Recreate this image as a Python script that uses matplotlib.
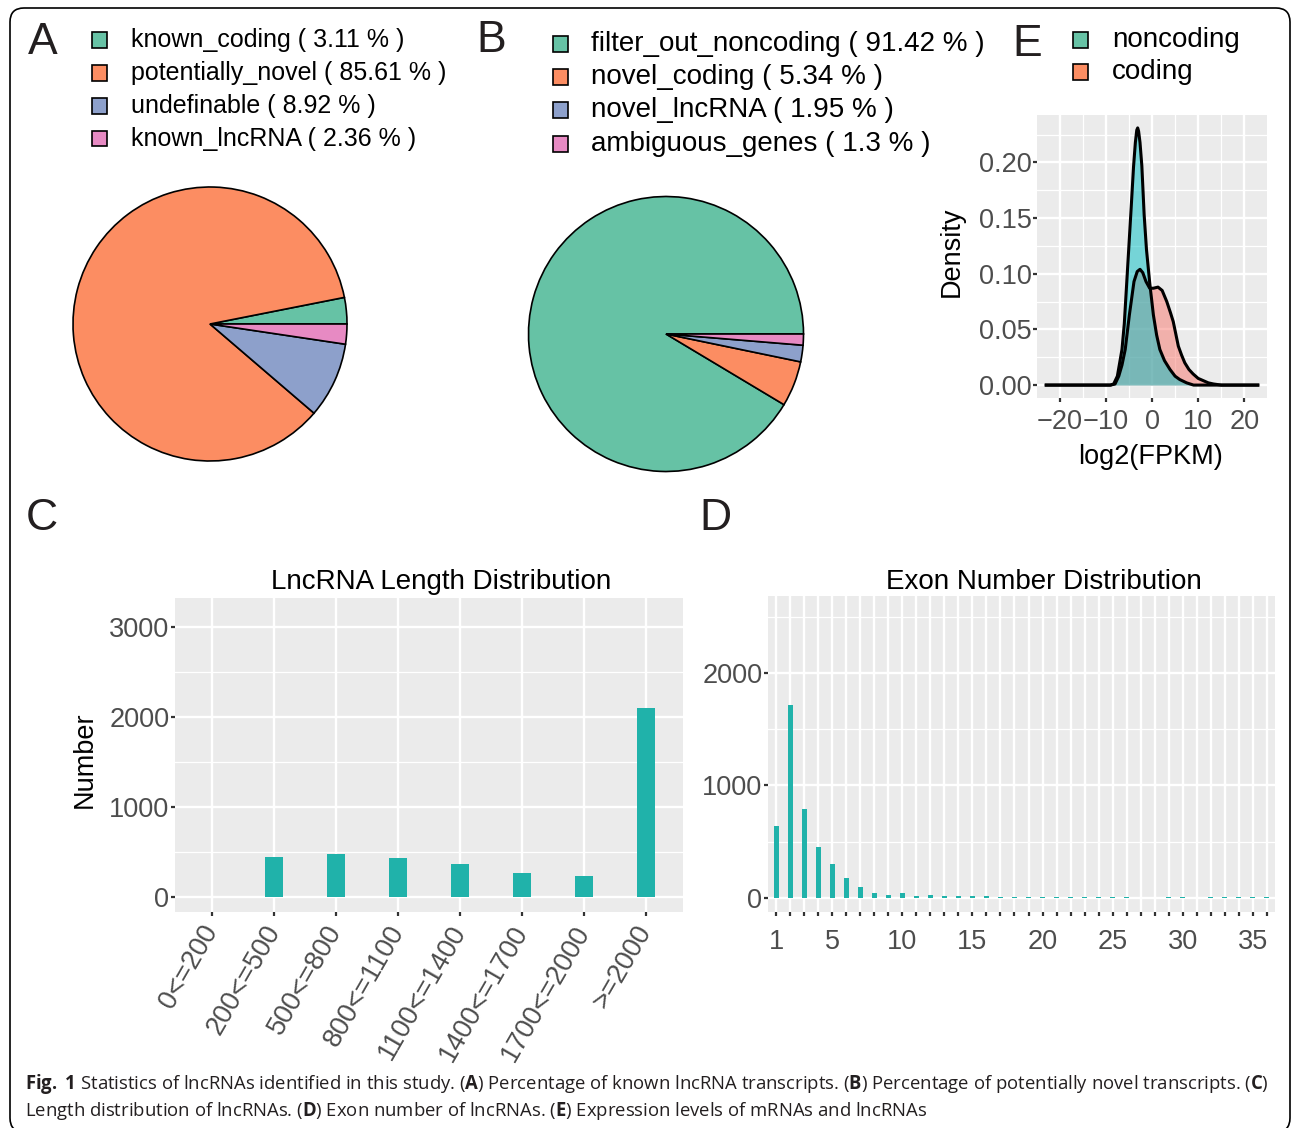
import matplotlib
matplotlib.use("Agg")
import matplotlib.pyplot as plt
from matplotlib.patches import Rectangle, FancyBboxPatch
from matplotlib.ticker import MultipleLocator, FormatStrFormatter
from matplotlib.transforms import IdentityTransform

plt.rcParams['font.family'] = ['Liberation Sans', 'DejaVu Sans']
plt.rcParams['mathtext.fontset'] = 'custom'
plt.rcParams['mathtext.rm'] = 'Open Sans'
plt.rcParams['mathtext.bf'] = 'Open Sans:bold'

W, H = 1292, 1128

# ---- data ----
pie_a_labels = ["known_coding", "potentially_novel", "undefinable", "known_lncRNA"]
pie_a_values = [3.11, 85.61, 8.92, 2.36]

pie_b_labels = ["filter_out_noncoding", "novel_coding", "novel_lncRNA", "ambiguous_genes"]
pie_b_values = [91.42, 5.34, 1.95, 1.3]

pie_colors = ["#66C2A5", "#FC8D62", "#8DA0CB", "#E78AC3"]

length_bins = ["0<=200", "200<=500", "500<=800", "800<=1100",
               "1100<=1400", "1400<=1700", "1700<=2000", ">=2000"]
length_counts = [5, 445, 480, 435, 372, 270, 234, 2108]

exon_numbers = list(range(1, 37))
exon_counts = [640, 1712, 793, 450, 297, 180, 99, 45, 24, 39, 18, 27,
               15, 15, 15, 15, 6, 6, 6, 6, 3, 3, 3, 3, 3, 5, 2, 2, 4, 3,
               2, 4, 4, 4, 4, 4]

# density of log2(FPKM), read point by point
nc_x = [-22.9, -9.0, -8.3, -7.5, -6.5, -6.0, -5.5, -5.0, -4.5, -4.0, -3.6, -3.3, -3.1,
        -2.9, -2.6, -2.2, -1.7, -1.2, -0.5, 0.3, 1.0, 1.7, 2.7, 3.9, 5.0, 6.0, 7.5, 9.0, 22.9]
nc_y = [0, 0, 0.001, 0.008, 0.032, 0.055, 0.090, 0.125, 0.160, 0.196, 0.218, 0.229, 0.231,
        0.228, 0.218, 0.197, 0.153, 0.122, 0.092, 0.063, 0.045, 0.032, 0.022, 0.014, 0.008,
        0.005, 0.002, 0, 0]
cd_x = [-22.9, -9.0, -8.0, -7.2, -6.5, -5.8, -4.9, -3.9, -3.2, -2.6, -2.0, -1.3, -0.5,
        0.3, 1.3, 2.2, 3.2, 4.0, 4.6, 5.2, 5.7, 6.4, 7.1, 8.0, 8.9, 10.0, 11.1, 12.2,
        13.3, 15.0, 22.9]
cd_y = [0, 0, 0.001, 0.008, 0.018, 0.032, 0.063, 0.093, 0.102, 0.104, 0.101, 0.093,
        0.087, 0.087, 0.088, 0.085, 0.075, 0.065, 0.057, 0.045, 0.035, 0.027, 0.020,
        0.014, 0.010, 0.006, 0.004, 0.002, 0.001, 0, 0]

density_labels = ["noncoding", "coding"]
density_fill = {"noncoding": "#00BFC4", "coding": "#F8766D"}

bar_color = "#20B2AA"
tick_gray = "#4D4D4D"
letter_col = "#231F20"


def fx(x):
    return x / W


def fy(y):
    return 1 - y / H


def box(left, top, right, bottom):
    return [fx(left), fy(bottom), (right - left) / W, (bottom - top) / H]


def gg_style(ax):
    ax.set_facecolor("#EBEBEB")
    for s in ax.spines.values():
        s.set_visible(False)
    ax.set_axisbelow(True)
    ax.grid(True, which='major', color='white', lw=1.7)
    ax.grid(True, which='minor', color='white', lw=0.9)
    ax.tick_params(which='major', length=3, width=1.6, color='#333333',
                   labelcolor=tick_gray, labelsize=19.5, pad=1)
    ax.tick_params(which='minor', length=0)


def legend_rows(x_sq, x_txt, ys, labels, colors, size):
    for y, lab, col in zip(ys, labels, colors):
        fig.add_artist(Rectangle((fx(x_sq - 7.5), fy(y + 7.5)), 15 / W, 15 / H,
                                 transform=fig.transFigure, facecolor=col,
                                 edgecolor='black', lw=1.2))
        fig.text(fx(x_txt), fy(y), lab, fontsize=size, va='center', ha='left')


fig = plt.figure(figsize=(W / 100, H / 100), dpi=100)

# ---- panel A ----
axA = fig.add_axes(box(70, 184, 350, 464))
axA.pie(pie_a_values, colors=pie_colors, startangle=0, counterclock=True,
        wedgeprops=dict(edgecolor='black', linewidth=1.2))
axA.set_xlim(-140 / 137, 140 / 137)
axA.set_ylim(-140 / 137, 140 / 137)
axA.set_aspect('equal')
axA.axis('off')
legend_rows(100, 131, [40, 73, 106, 139],
            [f"{l} ( {v} % )" for l, v in zip(pie_a_labels, pie_a_values)],
            pie_colors, 18)

# ---- panel B ----
axB = fig.add_axes(box(526, 194, 806, 474))
axB.pie(pie_b_values, colors=pie_colors, startangle=0, counterclock=True,
        wedgeprops=dict(edgecolor='black', linewidth=1.2))
axB.set_xlim(-140 / 137.5, 140 / 137.5)
axB.set_ylim(-140 / 137.5, 140 / 137.5)
axB.set_aspect('equal')
axB.axis('off')
legend_rows(560, 591, [44, 77, 110, 144],
            [f"{l} ( {v} % )" for l, v in zip(pie_b_labels, pie_b_values)],
            pie_colors, 20)

# ---- panel E ----
axE = fig.add_axes(box(1037, 115, 1267, 398))
gg_style(axE)
axE.fill_between(cd_x, cd_y, color=density_fill["coding"], alpha=0.5, lw=0)
axE.plot(cd_x, cd_y, color='black', lw=2.2)
axE.fill_between(nc_x, nc_y, color=density_fill["noncoding"], alpha=0.5, lw=0)
axE.plot(nc_x, nc_y, color='black', lw=2.2)
axE.set_xlim(-24.9, 24.9)
axE.set_ylim(-0.0116, 0.2426)
axE.xaxis.set_major_locator(MultipleLocator(10))
axE.xaxis.set_minor_locator(MultipleLocator(5))
axE.yaxis.set_major_locator(MultipleLocator(0.05))
axE.yaxis.set_minor_locator(MultipleLocator(0.025))
axE.yaxis.set_major_formatter(FormatStrFormatter('%.2f'))
axE.tick_params(axis='x', pad=5)
fig.text(fx(952), fy(252), "Density", rotation=90, fontsize=19.5, ha='center', va='center')
fig.text(fx(1150), fy(457), "log2(FPKM)", fontsize=19.5, ha='center', va='center')
legend_rows(1080, 1112, [40, 72], density_labels, pie_colors[:2], 20)

# ---- panel C ----
axC = fig.add_axes(box(175, 598, 683, 912))
gg_style(axC)
xc = list(range(1, len(length_bins) + 1))
axC.bar(xc, length_counts, width=0.3, color=bar_color)
axC.set_xlim(0.4, 8.6)
axC.set_ylim(-167, 3327)
axC.set_xticks(xc)
axC.set_xticklabels(length_bins, rotation=60, ha='right', va='center',
                    rotation_mode='anchor')
axC.tick_params(axis='x', pad=8)
axC.yaxis.set_major_locator(MultipleLocator(1000))
axC.yaxis.set_minor_locator(MultipleLocator(500))
fig.text(fx(441), fy(582), "LncRNA Length Distribution", fontsize=20,
         ha='center', va='center')
fig.text(fx(85), fy(760), "Number", rotation=90, fontsize=19.5, ha='center', va='center')

# ---- panel D ----
axD = fig.add_axes(box(768, 596, 1275, 912))
gg_style(axD)
axD.bar(exon_numbers, exon_counts, width=0.4, color=bar_color)
axD.set_xlim(0.4, 36.6)
axD.set_ylim(-126, 2684)
axD.set_xticks(exon_numbers)
axD.set_xticklabels([str(n) if (n == 1 or n % 5 == 0) else "" for n in exon_numbers])
axD.tick_params(axis='x', pad=9)
axD.yaxis.set_major_locator(MultipleLocator(1000))
axD.yaxis.set_minor_locator(MultipleLocator(500))
fig.text(fx(1044), fy(582), "Exon Number Distribution", fontsize=20,
         ha='center', va='center')

# ---- panel letters ----
for lab, x, y in [("A", 43, 43), ("B", 491, 41), ("E", 1027, 45),
                  ("C", 42, 518), ("D", 715, 518)]:
    fig.text(fx(x), fy(y), lab, fontsize=32, color=letter_col, ha='center', va='center')

# ---- caption ----
cap1 = (r"$\mathbf{Fig.}$ $\mathbf{1}$ Statistics of lncRNAs identified in this study. "
        r"($\mathbf{A}$) Percentage of known lncRNA transcripts. "
        r"($\mathbf{B}$) Percentage of potentially novel transcripts. ($\mathbf{C}$)")
cap2 = (r"Length distribution of lncRNAs. ($\mathbf{D}$) Exon number of lncRNAs. "
        r"($\mathbf{E}$) Expression levels of mRNAs and lncRNAs")
fig.text(fx(25), fy(1089), cap1, fontsize=13.35, family='Open Sans', color=letter_col, va='baseline')
fig.text(fx(25), fy(1116), cap2, fontsize=13.35, family='Open Sans', color=letter_col, va='baseline')

# ---- outer frame ----
fig.add_artist(FancyBboxPatch((10, -4), 1280, 1124, boxstyle="round,pad=0,rounding_size=14",
                              transform=IdentityTransform(), facecolor='none',
                              edgecolor='black', lw=1.2))

fig.savefig("out.png", dpi=100)
